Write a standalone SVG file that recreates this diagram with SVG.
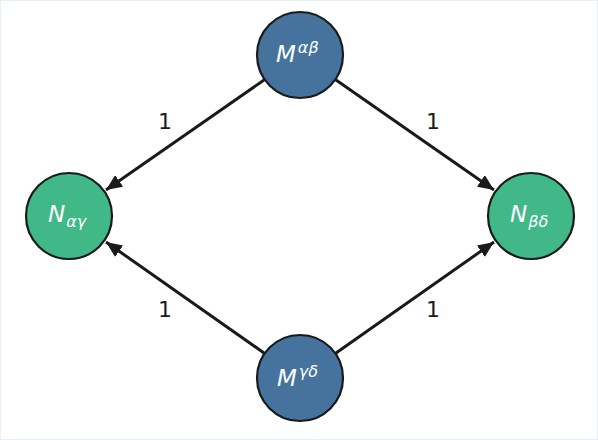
<svg xmlns="http://www.w3.org/2000/svg" width="598" height="440" viewBox="0 0 598 440">
<style>
.m{fill:#45739d;stroke:#1a1a1a;stroke-width:2.2}
.n{fill:#41b887;stroke:#1a1a1a;stroke-width:2.2}
.t{font-family:"DejaVu Sans",sans-serif;font-style:italic;fill:#ffffff}
.e{stroke:#1a1a1a;stroke-width:3;fill:none}
.l{font-family:"DejaVu Sans",sans-serif;font-size:22px;fill:#1a1a1a;text-anchor:middle}
</style>
<defs>
<marker id="a" viewBox="0 0 16 14" refX="16" refY="7" markerWidth="16" markerHeight="14" markerUnits="userSpaceOnUse" orient="auto"><path d="M0,0 L16,7 L0,14 z" fill="#1a1a1a"/></marker>
</defs>
<rect x="0.5" y="0.5" width="597" height="439" fill="#ffffff" stroke="#e4f0fa" stroke-width="1"/>
<g id="edges">
<line class="e" x1="264.7" y1="79.6" x2="106" y2="190" marker-end="url(#a)"/>
<line class="e" x1="335.3" y1="79.6" x2="494" y2="190" marker-end="url(#a)"/>
<line class="e" x1="264.7" y1="353.4" x2="106" y2="242" marker-end="url(#a)"/>
<line class="e" x1="335.3" y1="353.4" x2="494" y2="242" marker-end="url(#a)"/>
<text class="l" x="165" y="129">1</text>
<text class="l" x="433" y="129">1</text>
<text class="l" x="165" y="317">1</text>
<text class="l" x="433" y="317">1</text>
</g>
<g id="Mab"><circle class="m" cx="300" cy="55" r="43"/><text class="t" x="276" y="62" font-size="23">M<tspan font-size="16" dy="-9" dx="2">αβ</tspan></text></g>
<g id="Mgd"><circle class="m" cx="300" cy="378" r="43"/><text class="t" x="277" y="386" font-size="23">M<tspan font-size="16" dy="-9" dx="2">γδ</tspan></text></g>
<g id="Nag"><circle class="n" cx="69" cy="216" r="43"/><text class="t" x="48" y="222" font-size="23">N<tspan font-size="16" dy="5" dx="1">αγ</tspan></text></g>
<g id="Nbd"><circle class="n" cx="531" cy="216" r="43"/><text class="t" x="510" y="222" font-size="23">N<tspan font-size="16" dy="5" dx="1">βδ</tspan></text></g>
</svg>
